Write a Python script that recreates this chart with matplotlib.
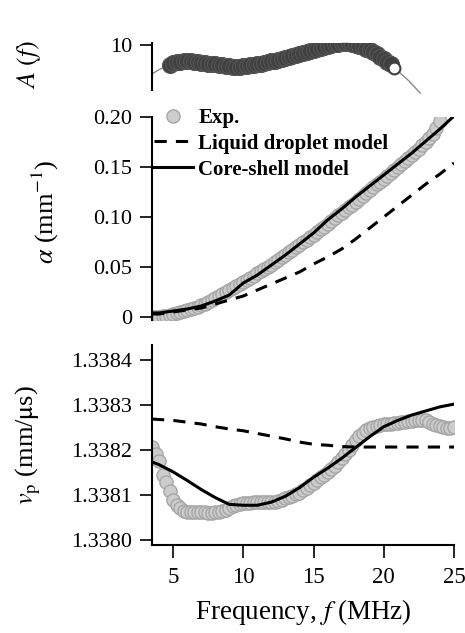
import matplotlib
matplotlib.use('Agg')
import matplotlib.pyplot as plt

plt.rcParams['font.family'] = ['Liberation Serif', 'DejaVu Serif']
plt.rcParams['mathtext.fontset'] = 'stix'

# measured frequencies (MHz)
freq = [3.5, 3.75, 4.0, 4.25, 4.5, 4.75, 5.0, 5.25, 5.5, 5.75,
        6.0, 6.25, 6.5, 6.75, 7.0, 7.25, 7.5, 7.75, 8.0, 8.25,
        8.5, 8.75, 9.0, 9.25, 9.5, 9.75, 10.0, 10.25, 10.5, 10.75,
        11.0, 11.25, 11.5, 11.75, 12.0, 12.25, 12.5, 12.75, 13.0, 13.25,
        13.5, 13.75, 14.0, 14.25, 14.5, 14.75, 15.0, 15.25, 15.5, 15.75,
        16.0, 16.25, 16.5, 16.75, 17.0, 17.25, 17.5, 17.75, 18.0, 18.25,
        18.5, 18.75, 19.0, 19.25, 19.5, 19.75, 20.0, 20.25, 20.5, 20.75,
        21.0, 21.25, 21.5, 21.75, 22.0, 22.25, 22.5, 22.75, 23.0, 23.25,
        23.5, 23.75, 24.0, 24.25, 24.5, 24.75, 25.0]

# attenuation, exp. (mm^-1), up to 24 MHz
alpha_exp = [0.000, 0.000, 0.000, 0.001, 0.001, 0.002, 0.003, 0.004, 0.005, 0.006,
             0.007, 0.008, 0.009, 0.010, 0.012, 0.013, 0.015, 0.017, 0.019, 0.021,
             0.023, 0.025, 0.027, 0.029, 0.031, 0.033, 0.035, 0.037, 0.039, 0.041,
             0.044, 0.046, 0.048, 0.050, 0.052, 0.055, 0.057, 0.060, 0.062, 0.065,
             0.067, 0.070, 0.072, 0.075, 0.077, 0.080, 0.082, 0.085, 0.088, 0.090,
             0.093, 0.096, 0.099, 0.102, 0.104, 0.107, 0.110, 0.112, 0.115, 0.118,
             0.121, 0.124, 0.127, 0.130, 0.133, 0.135, 0.138, 0.141, 0.144, 0.147,
             0.150, 0.153, 0.156, 0.159, 0.162, 0.165, 0.168, 0.172, 0.175, 0.179,
             0.183, 0.189, 0.196]

# phase velocity, exp. (mm/us)
vp_exp = [1.338208, 1.338192, 1.338176, 1.338146, 1.338130, 1.338110, 1.338090, 1.338078, 1.338071, 1.338066,
          1.338064, 1.338063, 1.338063, 1.338062, 1.338062, 1.338062, 1.338061, 1.338061, 1.338062, 1.338063,
          1.338066, 1.338068, 1.338072, 1.338076, 1.338079, 1.338081, 1.338082, 1.338083, 1.338084, 1.338085,
          1.338086, 1.338086, 1.338086, 1.338086, 1.338086, 1.338086, 1.338088, 1.338090, 1.338093, 1.338096,
          1.338099, 1.338102, 1.338106, 1.338111, 1.338116, 1.338122, 1.338128, 1.338134, 1.338140, 1.338146,
          1.338152, 1.338159, 1.338166, 1.338174, 1.338182, 1.338191, 1.338201, 1.338212, 1.338222, 1.338231,
          1.338238, 1.338244, 1.338249, 1.338252, 1.338254, 1.338256, 1.338257, 1.338258, 1.338259, 1.338260,
          1.338261, 1.338262, 1.338263, 1.338264, 1.338265, 1.338266, 1.338267, 1.338267, 1.338266, 1.338263,
          1.338259, 1.338256, 1.338253, 1.338251, 1.338250, 1.338250, 1.338251]

# model curves
model_freq = [3.5, 4, 5, 6, 7, 8, 9, 10, 11, 12, 13, 14, 15, 16, 17, 18, 19, 20, 21, 22, 23, 24, 25]
alpha_core = [0.004, 0.004, 0.006, 0.008, 0.011, 0.016, 0.022, 0.034, 0.042, 0.052, 0.062, 0.073,
              0.084, 0.097, 0.108, 0.120, 0.131, 0.142, 0.153, 0.164, 0.176, 0.188, 0.201]
alpha_liquid = [0.003, 0.003, 0.005, 0.007, 0.009, 0.013, 0.017, 0.021, 0.027, 0.033, 0.039, 0.045,
                0.053, 0.060, 0.068, 0.078, 0.089, 0.100, 0.111, 0.122, 0.133, 0.143, 0.154]
vp_core = [1.338174, 1.338168, 1.338152, 1.338133, 1.338113, 1.338095, 1.338080, 1.338078,
           1.338078, 1.338085, 1.338098, 1.338117, 1.338140, 1.338160, 1.338182, 1.338206,
           1.338230, 1.338252, 1.338266, 1.338278, 1.338287, 1.338296, 1.338302]
vp_liquid = [1.338269, 1.338268, 1.338266, 1.338262, 1.338258, 1.338252, 1.338247, 1.338243,
             1.338237, 1.338231, 1.338225, 1.338218, 1.338213, 1.338211, 1.338208, 1.338207,
             1.338207, 1.338207, 1.338207, 1.338207, 1.338207, 1.338207, 1.338207]

# A(f) weighting
a_freq = [4.75, 5.0, 5.25, 5.5, 5.75, 6.0, 6.25, 6.5, 6.75, 7.0, 7.25, 7.5, 7.75, 8.0,
          8.25, 8.5, 8.75, 9.0, 9.25, 9.5, 9.75, 10.0, 10.25, 10.5, 10.75, 11.0, 11.25,
          11.5, 11.75, 12.0, 12.25, 12.5, 12.75, 13.0, 13.25, 13.5, 13.75, 14.0, 14.25,
          14.5, 14.75, 15.0, 15.25, 15.5, 15.75, 16.0, 16.25, 16.5, 16.75, 17.0, 17.25,
          17.5, 17.75, 18.0, 18.25, 18.5, 18.75, 19.0, 19.25, 19.5, 19.75, 20.0, 20.25,
          20.5, 20.75]
a_vals = [8.15, 8.3, 8.4, 8.45, 8.5, 8.5, 8.5, 8.45, 8.4, 8.35, 8.3, 8.28, 8.25, 8.2,
          8.15, 8.1, 8.05, 8.0, 7.95, 7.94, 7.96, 8.0, 8.05, 8.1, 8.15, 8.2, 8.25,
          8.3, 8.38, 8.47, 8.56, 8.65, 8.73, 8.81, 8.9, 8.98, 9.07, 9.16, 9.25,
          9.34, 9.43, 9.52, 9.6, 9.7, 9.8, 9.9, 9.98, 10.06, 10.12, 10.16, 10.18,
          10.17, 10.12, 10.05, 9.95, 9.82, 9.68, 9.52, 9.35, 9.15, 8.93, 8.7, 8.45,
          8.2, 7.9]
a_line_freq = [3.5, 4.0, 4.5, 5.0, 6.0, 7.0, 8.0, 9.0, 10.0, 11.0, 12.0, 13.0, 14.0, 15.0,
               16.0, 17.0, 17.5, 18.0, 19.0, 20.0, 20.75, 21.25, 21.75, 22.25, 22.6]
a_line_vals = [7.3, 7.7, 8.0, 8.3, 8.5, 8.35, 8.2, 8.0, 8.0, 8.2, 8.47, 8.81, 9.16, 9.52,
               9.9, 10.16, 10.17, 10.05, 9.52, 8.7, 7.9, 7.3, 6.7, 6.0, 5.5]

W, H = 465, 633
fig = plt.figure(figsize=(W / 100, H / 100), dpi=100)
L, R = 152 / W, 454 / W
ax_a = fig.add_axes([L, (H - 90) / H, R - L, 47 / H])
ax_m = fig.add_axes([L, (H - 320) / H, R - L, 203 / H])
ax_v = fig.add_axes([L, (H - 545) / H, R - L, 200 / H])

exp_style = dict(marker='o', ls='none', ms=9.5, mfc='#cccccc', mec='#a6a6a6', mew=1.0)

for ax in (ax_a, ax_m, ax_v):
    ax.set_xlim(3.5, 25)
    for s in ('top', 'right'):
        ax.spines[s].set_visible(False)
    ax.spines['left'].set_linewidth(1.5)
    ax.tick_params(axis='y', direction='out', length=8.5, width=1.2, pad=6, labelsize=16)
    ax.tick_params(axis='x', direction='out', length=9, width=1.2, pad=7, labelsize=16.5)

# top: A(f)
ax_a.plot(a_line_freq, a_line_vals, color='#8a8a8a', lw=1.0, clip_on=False)
ax_a.plot(a_freq[:-1], a_vals[:-1], marker='o', ls='none', ms=11.5, mfc='#404040', mec='#555555', mew=0.8)
ax_a.plot(a_freq[-1:], a_vals[-1:], marker='o', ls='none', ms=8.5, mfc='white', mec='#404040', mew=1.5)
ax_a.set_ylim(5.8, 10.2)
ax_a.set_yticks([10])
ax_a.set_yticklabels(['10'])
ax_a.spines['bottom'].set_visible(False)
ax_a.set_xticks([])
ax_a.set_ylabel(r'$A\ (f)$', fontsize=19)
ax_a.yaxis.set_label_coords(-0.36, 0.55)

# middle: attenuation
ax_m.plot(freq[:len(alpha_exp)], alpha_exp, label='Exp.', **exp_style)
ax_m.plot(model_freq, alpha_liquid, color='black', lw=2.2, ls=(0, (4, 3)), label='Liquid droplet model')
ax_m.plot(model_freq, alpha_core, color='black', lw=2.2, label='Core-shell model')
ax_m.set_ylim(-0.003, 0.2)
ax_m.set_yticks([0, 0.05, 0.10, 0.15, 0.20])
ax_m.set_yticklabels(['0', '0.05', '0.10', '0.15', '0.20'])
ax_m.spines['bottom'].set_visible(False)
ax_m.set_xticks([])
ax_m.set_ylabel(r'$\alpha$ (mm$^{-1}$)', fontsize=19)
ax_m.yaxis.set_label_coords(-0.30, 0.53)
ax_m.legend(loc='upper left', bbox_to_anchor=(0.005, 1.045), frameon=False, numpoints=1,
            prop={'weight': 'bold', 'size': 15, 'family': 'Liberation Serif'},
            handlelength=1.9, handletextpad=0.25, labelspacing=0.28, borderpad=0, borderaxespad=0)

# bottom: phase velocity
ax_v.plot(freq, vp_exp, **exp_style)
ax_v.plot(model_freq, vp_liquid, color='black', lw=2.2, ls=(0, (4, 3)))
ax_v.plot(model_freq, vp_core, color='black', lw=2.2)
ax_v.set_ylim(1.33799, 1.338433)
ax_v.set_yticks([1.3380, 1.3381, 1.3382, 1.3383, 1.3384])
ax_v.set_yticklabels(['1.3380', '1.3381', '1.3382', '1.3383', '1.3384'])
ax_v.set_xticks([5, 10, 15, 20, 25])
ax_v.spines['bottom'].set_linewidth(1.5)
ax_v.set_ylabel(r'$v_{\mathrm{p}}$ (mm/$\mathrm{\mu}$s)', fontsize=19)
ax_v.yaxis.set_label_coords(-0.36, 0.5)
ax_v.set_xlabel(r'Frequency, $f\ $(MHz)', fontsize=19.5, labelpad=6)

fig.savefig('out.png', dpi=100)
